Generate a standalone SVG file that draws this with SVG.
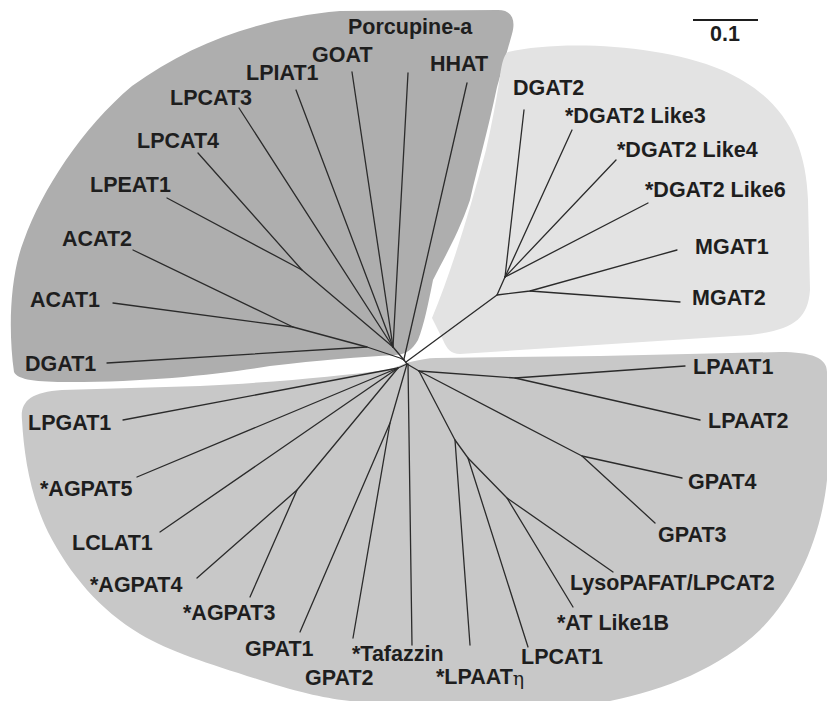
<svg xmlns="http://www.w3.org/2000/svg" width="827" height="701" viewBox="0 0 827 701">
  <style>
    .lbl { font-family: "Liberation Sans", Arial, sans-serif; font-weight: bold; font-size: 21.5px; fill: #1e1e1e; }
    .greek { font-family: "DejaVu Serif", "Liberation Serif", serif; font-weight: normal; font-size: 19px; }
    .edge { stroke: #2b2b2b; stroke-width: 1.3; fill: none; stroke-linecap: round; stroke-linejoin: round; }
  </style>
  <rect x="0" y="0" width="827" height="701" fill="#ffffff"/>

  <!-- clade backgrounds -->
  <g id="clade-shading">
    <path id="clade-mbo" fill="#aeaeae" d="M 14,372 C 8,330 10,275 24,240 C 42,190 82,128 132,86 C 192,42 262,18 340,11 L 498,10 C 512,10 516,20 512,34 L 497,87 C 488,130 478,165 470,200 C 458,235 444,258 433,280 C 428,305 424,325 418,340 C 412,350 406,354 396,355 C 360,357 320,360 270,366 C 220,374 150,382 70,382 C 36,382 18,380 14,372 Z"/>
    <path id="clade-dgat2" fill="#e3e3e3" d="M 508,52 C 560,40 660,44 722,70 C 782,96 806,140 808,200 L 810,290 C 808,320 792,330 750,335 L 460,354 C 451,354 447,349 443,340 L 432,318 C 452,270 470,210 486,150 C 493,120 498,90 500,76 C 502,62 504,55 508,52 Z"/>
    <path id="clade-agpat" fill="#c8c8c8" d="M 22,420 C 20,402 30,392 62,390 L 200,386 C 280,382 340,376 386,370 C 396,368 402,364 410,362 C 420,360 428,358 436,358 L 600,356 L 780,352 C 812,352 827,358 827,372 L 827,480 C 822,530 800,590 760,630 C 720,668 665,690 610,701 L 350,701 C 330,699 300,693 260,680 C 210,664 170,652 140,634 C 100,610 70,575 48,532 C 30,495 24,455 22,420 Z"/>
  </g>

  <!-- scale bar -->
  <g id="scale-bar">
    <line x1="693" y1="20" x2="758" y2="20" stroke="#1e1e1e" stroke-width="2"/>
    <text class="lbl" x="710" y="41">0.1</text>
  </g>

  <!-- tree branches -->
  <g id="connectors" class="edge">
    <!-- MBOAT clade -->
    <polyline points="467,83 404,359"/>
    <polyline points="408,73 393,347"/>
    <polyline points="352,72 393,347"/>
    <polyline points="296,90 393,347"/>
    <polyline points="239,108 393,347"/>
    <polyline points="198,153 302,270"/>
    <polyline points="167,198 302,270 393,347 404,360"/>
    <polyline points="133,250 293,327"/>
    <polyline points="113,303 293,327 367,347 400,358 404,360"/>
    <polyline points="107,363 367,347"/>
    <!-- DGAT2 clade -->
    <polyline points="406,362 497,295 505,277"/>
    <polyline points="505,277 524,110"/>
    <polyline points="505,277 572,130"/>
    <polyline points="505,277 616,160"/>
    <polyline points="505,277 648,203"/>
    <polyline points="497,295 530,291 677,250"/>
    <polyline points="530,291 680,302"/>
    <!-- AGPAT clade -->
    <polyline points="404,360 407,364 419,371"/>
    <polyline points="419,371 515,378 685,366"/>
    <polyline points="515,378 700,420"/>
    <polyline points="419,371 582,456 682,478"/>
    <polyline points="582,456 655,523"/>
    <polyline points="419,371 455,440 470,645"/>
    <polyline points="455,440 468,458 528,647"/>
    <polyline points="468,458 507,498 613,572"/>
    <polyline points="507,498 573,607"/>
    <polyline points="408,364 412,645"/>
    <polyline points="407,364 390,423 300,632"/>
    <polyline points="390,423 353,638"/>
    <polyline points="407,364 398,368 123,420"/>
    <polyline points="398,368 137,477"/>
    <polyline points="398,368 160,532"/>
    <polyline points="398,368 297,490 197,578"/>
    <polyline points="297,490 250,597"/>
  </g>

  <!-- leaf labels -->
  <g id="n-porcupine"><text class="lbl" x="348" y="34">Porcupine-a</text></g>
  <g id="n-goat"><text class="lbl" x="312" y="62">GOAT</text></g>
  <g id="n-hhat"><text class="lbl" x="430" y="71">HHAT</text></g>
  <g id="n-lpiat1"><text class="lbl" x="246" y="80">LPIAT1</text></g>
  <g id="n-lpcat3"><text class="lbl" x="170" y="105">LPCAT3</text></g>
  <g id="n-lpcat4"><text class="lbl" x="137" y="148">LPCAT4</text></g>
  <g id="n-lpeat1"><text class="lbl" x="90" y="192">LPEAT1</text></g>
  <g id="n-acat2"><text class="lbl" x="62" y="246">ACAT2</text></g>
  <g id="n-acat1"><text class="lbl" x="30" y="307">ACAT1</text></g>
  <g id="n-dgat1"><text class="lbl" x="25" y="371">DGAT1</text></g>

  <g id="n-dgat2"><text class="lbl" x="513" y="95">DGAT2</text></g>
  <g id="n-dgat2like3"><text class="lbl" x="565" y="123">*DGAT2 Like3</text></g>
  <g id="n-dgat2like4"><text class="lbl" x="617" y="157">*DGAT2 Like4</text></g>
  <g id="n-dgat2like6"><text class="lbl" x="645" y="197">*DGAT2 Like6</text></g>
  <g id="n-mgat1"><text class="lbl" x="695" y="254">MGAT1</text></g>
  <g id="n-mgat2"><text class="lbl" x="692" y="305">MGAT2</text></g>

  <g id="n-lpaat1"><text class="lbl" x="693" y="374">LPAAT1</text></g>
  <g id="n-lpaat2"><text class="lbl" x="708" y="428">LPAAT2</text></g>
  <g id="n-gpat4"><text class="lbl" x="688" y="489">GPAT4</text></g>
  <g id="n-gpat3"><text class="lbl" x="658" y="542">GPAT3</text></g>
  <g id="n-lysopafat"><text class="lbl" x="570" y="590">LysoPAFAT/LPCAT2</text></g>
  <g id="n-atlike1b"><text class="lbl" x="557" y="630">*AT Like1B</text></g>
  <g id="n-lpcat1"><text class="lbl" x="521" y="664">LPCAT1</text></g>
  <g id="n-lpaateta"><text class="lbl" x="436" y="684">*LPAAT<tspan class="greek" dy="1">η</tspan></text></g>
  <g id="n-tafazzin"><text class="lbl" x="352" y="661">*Tafazzin</text></g>
  <g id="n-gpat2"><text class="lbl" x="305" y="685">GPAT2</text></g>
  <g id="n-gpat1"><text class="lbl" x="245" y="656">GPAT1</text></g>
  <g id="n-agpat3"><text class="lbl" x="183" y="620">*AGPAT3</text></g>
  <g id="n-agpat4"><text class="lbl" x="90" y="592">*AGPAT4</text></g>
  <g id="n-lclat1"><text class="lbl" x="72" y="550">LCLAT1</text></g>
  <g id="n-agpat5"><text class="lbl" x="40" y="496">*AGPAT5</text></g>
  <g id="n-lpgat1"><text class="lbl" x="28" y="430">LPGAT1</text></g>
</svg>
